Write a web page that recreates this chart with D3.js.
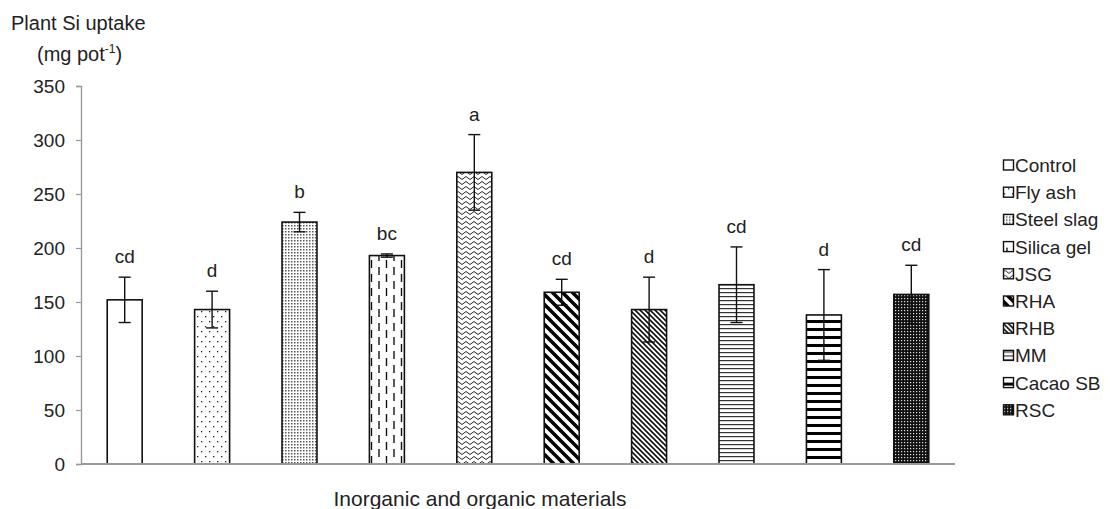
<!DOCTYPE html>
<html>
<head>
<meta charset="utf-8">
<script src="https://cdn.jsdelivr.net/npm/d3@7"></script>
<style>
  body { margin: 0; background: #fff; }
  svg { font-family: "Liberation Sans", Arial, sans-serif; }
</style>
</head>
<body>
<svg id="chart" width="1110" height="509"></svg>
<script>
// data
const materials = ["Control", "Fly ash", "Steel slag", "Silica gel", "JSG", "RHA", "RHB", "MM", "Cacao SB", "RSC"];
const uptake = [152, 143, 224, 193, 270, 159, 143, 166, 138, 157];
const errors = [21, 17, 9, 1.5, 35, 12, 30, 35, 42, 27];
const letters = ["cd", "d", "b", "bc", "a", "cd", "d", "cd", "d", "cd"];
const yTicks = [0, 50, 100, 150, 200, 250, 300, 350];

const svg = d3.select("#chart");
const margin = { left: 81, right: 155, top: 86, bottom: 45 };
const width = 1110, height = 509;
const ink = "#222";

const x = d3.scaleBand()
	.domain(materials)
	.range([margin.left, width - margin.right])
	.paddingInner(0.6)
	.paddingOuter(0.3);

const y = d3.scaleLinear()
	.domain([0, 350])
	.range([height - margin.bottom, margin.top]);

// patterns, one per material
const defs = svg.append("defs");

function pattern(id, w, h, draw) {
	const p = defs.append("pattern")
		.attr("id", id)
		.attr("patternUnits", "userSpaceOnUse")
		.attr("width", w)
		.attr("height", h);
	p.append("rect").attr("width", w).attr("height", h).attr("fill", "#fff");
	draw(p);
}

const patternIds = ["pControl", "pFly", "pSteel", "pSilica", "pJsg", "pRha", "pRhb", "pMm", "pCacao", "pRsc"];

pattern("pControl", 4, 4, () => {});
pattern("pFly", 8, 10, p => {
	p.append("rect").attr("x", 1).attr("y", 1).attr("width", 1.3).attr("height", 1.3).attr("fill", "#222");
	p.append("rect").attr("x", 5).attr("y", 6).attr("width", 1.3).attr("height", 1.3).attr("fill", "#222");
});
pattern("pSteel", 3, 3, p => {
	p.append("rect").attr("x", 0).attr("y", 0).attr("width", 1.5).attr("height", 1.5).attr("fill", "#555");
});
pattern("pSilica", 15, 14, p => {
	p.append("line").attr("x1", 4).attr("x2", 4).attr("y1", 1).attr("y2", 9)
		.attr("stroke", "#111").attr("stroke-width", 1.4);
	p.append("line").attr("x1", 11.5).attr("x2", 11.5).attr("y1", 8).attr("y2", 16)
		.attr("stroke", "#111").attr("stroke-width", 1.4);
	p.append("line").attr("x1", 11.5).attr("x2", 11.5).attr("y1", -6).attr("y2", 2)
		.attr("stroke", "#111").attr("stroke-width", 1.4);
});
pattern("pJsg", 8, 5, p => {
	p.append("path").attr("d", "M0,3 Q2,0 4,3 T8,3")
		.attr("fill", "none").attr("stroke", "#222").attr("stroke-width", 1);
});
pattern("pRha", 10, 10, p => {
	p.append("path").attr("d", "M0,0 L10,10 M-5,5 L5,15 M5,-5 L15,5")
		.attr("stroke", "#000").attr("stroke-width", 3.5);
});
pattern("pRhb", 5, 5, p => {
	p.append("path").attr("d", "M0,0 L5,5 M-2.5,2.5 L2.5,7.5 M2.5,-2.5 L7.5,2.5")
		.attr("stroke", "#111").attr("stroke-width", 1.6);
});
pattern("pMm", 4, 4, p => {
	p.append("rect").attr("x", 0).attr("y", 0).attr("width", 4).attr("height", 1.2).attr("fill", "#333");
});
pattern("pCacao", 8, 8, p => {
	p.append("rect").attr("x", 0).attr("y", 0).attr("width", 8).attr("height", 3).attr("fill", "#000");
});
pattern("pRsc", 3, 3, p => {
	p.append("rect").attr("width", 3).attr("height", 3).attr("fill", "#111");
	p.append("rect").attr("x", 1).attr("y", 1).attr("width", 1.2).attr("height", 1.2).attr("fill", "#ddd");
});

// axes
const yAxis = svg.append("g")
	.attr("transform", `translate(${margin.left},0)`)
	.call(d3.axisLeft(y).tickValues(yTicks).tickSize(5).tickPadding(11));
yAxis.select(".domain").attr("stroke", "#999").attr("stroke-width", 1.4);
yAxis.selectAll(".tick line").attr("stroke", "#999").attr("stroke-width", 1.2);
yAxis.selectAll(".tick text")
	.attr("font-size", 19)
	.attr("fill", ink)
	.attr("font-family", "Liberation Sans, Arial, sans-serif");

// bars
svg.append("g").selectAll("rect")
	.data(materials)
	.enter()
	.append("rect")
	.attr("x", d => x(d))
	.attr("y", (d, i) => y(uptake[i]))
	.attr("width", x.bandwidth())
	.attr("height", (d, i) => y(0) - y(uptake[i]))
	.attr("fill", (d, i) => `url(#${patternIds[i]})`)
	.attr("stroke", "#111")
	.attr("stroke-width", 1.6);

// x baseline
svg.append("line")
	.attr("x1", margin.left)
	.attr("x2", width - margin.right)
	.attr("y1", y(0))
	.attr("y2", y(0))
	.attr("stroke", "#999")
	.attr("stroke-width", 2);

// error bars
const errG = svg.append("g")
	.attr("stroke", "#111")
	.attr("stroke-width", 1.4);
materials.forEach((m, i) => {
	const cx = x(m) + x.bandwidth() / 2;
	const top = y(uptake[i] + errors[i]);
	const bot = y(uptake[i] - errors[i]);
	errG.append("line").attr("x1", cx).attr("x2", cx).attr("y1", top).attr("y2", bot);
	errG.append("line").attr("x1", cx - 6).attr("x2", cx + 6).attr("y1", top).attr("y2", top);
	errG.append("line").attr("x1", cx - 6).attr("x2", cx + 6).attr("y1", bot).attr("y2", bot);
});

// significance letters
svg.append("g").selectAll("text")
	.data(materials)
	.enter()
	.append("text")
	.attr("x", d => x(d) + x.bandwidth() / 2)
	.attr("y", (d, i) => y(uptake[i] + errors[i]) - 14)
	.attr("text-anchor", "middle")
	.attr("font-size", 19)
	.attr("fill", ink)
	.text((d, i) => letters[i]);

// axis titles
svg.append("text")
	.attr("x", 11)
	.attr("y", 30)
	.attr("font-size", 20)
	.attr("fill", ink)
	.text("Plant Si uptake");

const unit = svg.append("text")
	.attr("x", 37)
	.attr("y", 61)
	.attr("font-size", 20)
	.attr("fill", ink);
unit.append("tspan").text("(mg pot");
unit.append("tspan").attr("font-size", 12).attr("dy", -8).text("-1");
unit.append("tspan").attr("dy", 8).text(")");

svg.append("text")
	.attr("x", 480)
	.attr("y", 506)
	.attr("text-anchor", "middle")
	.attr("font-size", 21)
	.attr("fill", ink)
	.text("Inorganic and organic materials");

// legend
const legend = svg.append("g")
	.attr("transform", "translate(1003,165)");
const legendItems = legend.selectAll("g")
	.data(materials)
	.enter()
	.append("g")
	.attr("transform", (d, i) => `translate(0,${i * 27.2})`);
legendItems.append("rect")
	.attr("x", 0.5)
	.attr("y", -5)
	.attr("width", 10)
	.attr("height", 10)
	.attr("fill", (d, i) => `url(#${patternIds[i]})`)
	.attr("stroke", "#111")
	.attr("stroke-width", 1.4);
legendItems.append("text")
	.attr("x", 12)
	.attr("y", 7)
	.attr("font-size", 19)
	.attr("fill", ink)
	.text(d => d);
</script>
</body>
</html>
